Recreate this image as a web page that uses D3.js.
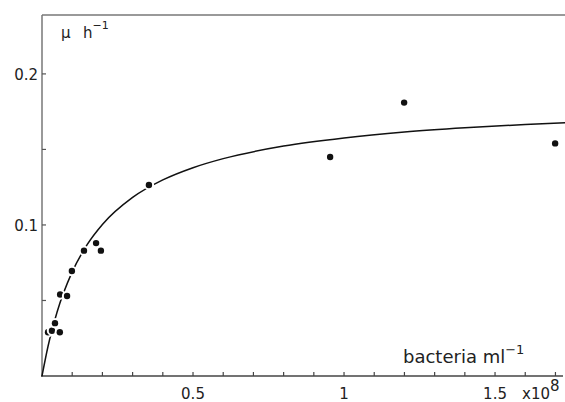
<!DOCTYPE html>
<html><head><meta charset="utf-8">
<script src="https://cdn.jsdelivr.net/npm/d3@7"></script>
<style>body{margin:0;background:#fff}svg{display:block}text{font-family:"DejaVu Sans",sans-serif;fill:#222}</style>
</head><body><svg id="c" width="565" height="402"></svg>
<script>
// observed points: bacteria (x10^8 ml^-1), growth rate mu (h^-1)
const bacteria = [0.020, 0.033, 0.059, 0.043, 0.060, 0.083, 0.099, 0.139, 0.179, 0.195, 0.354, 0.954, 1.199, 1.699];
const growth   = [0.029, 0.030, 0.029, 0.035, 0.054, 0.053, 0.0695, 0.083, 0.088, 0.083, 0.1265, 0.145, 0.181, 0.154];
// fitted curve
const curveX = [0, 0.02, 0.05, 0.1, 0.15, 0.2, 0.3, 0.4, 0.5, 0.6, 0.8, 1.0, 1.2, 1.4, 1.6, 1.74];
const curveY = [0, 0.0197, 0.0424, 0.0689, 0.0871, 0.1003, 0.1182, 0.1298, 0.1379, 0.1439, 0.1522, 0.1576, 0.1615, 0.1643, 0.1665, 0.1678];
const xTicks = [0.1,0.2,0.3,0.4,0.5,0.6,0.7,0.8,0.9,1.0,1.1,1.2,1.3,1.4,1.5,1.6,1.7];
const xLabels = [0.5, 1, 1.5];
const yTicks = [0.05, 0.1, 0.15, 0.2];
const yLabels = [0.1, 0.2];

const svg = d3.select("#c");
const x = d3.scaleLinear().domain([0, 1.725]).range([42, 563]);
const y = d3.scaleLinear().domain([0, 0.239]).range([376, 15]);

// frame
svg.append("line").attr("x1", 42).attr("x2", 565).attr("y1", 15).attr("y2", 15).attr("stroke", "#777").attr("stroke-width", 1.5);
svg.append("line").attr("x1", 42).attr("x2", 42).attr("y1", 15).attr("y2", 377).attr("stroke", "#777").attr("stroke-width", 1.5);
svg.append("line").attr("x1", 41).attr("x2", 563).attr("y1", 376).attr("y2", 376).attr("stroke", "#444").attr("stroke-width", 1.5);

// ticks
svg.selectAll(".xt").data(xTicks).join("line").attr("x1", d => x(d)).attr("x2", d => x(d))
  .attr("y1", 376).attr("y2", 372).attr("stroke", "#444").attr("stroke-width", 1.2);
svg.selectAll(".yt").data(yTicks).join("line").attr("y1", d => y(d)).attr("y2", d => y(d))
  .attr("x1", 42).attr("x2", 46).attr("stroke", "#555").attr("stroke-width", 1.2);

svg.selectAll(".xl").data(xLabels).join("text").attr("x", d => x(d)).attr("y", 399)
  .attr("text-anchor", "middle").attr("font-size", 15).text(d => d);
svg.selectAll(".yl").data(yLabels).join("text").attr("x", 38).attr("y", d => y(d) + 6)
  .attr("text-anchor", "end").attr("font-size", 15).text(d => d);

// x10^8
const m = svg.append("text").attr("x", 522).attr("y", 399).attr("font-size", 15);
m.append("tspan").text("x10");
m.append("tspan").attr("dy", -8).attr("font-size", 15).text("8");

// axis titles
const xt = svg.append("text").attr("x", 403).attr("y", 363).attr("font-size", 18);
xt.append("tspan").text("bacteria  ml");
xt.append("tspan").attr("dy", -9).attr("font-size", 13).text("\u22121");

const yt = svg.append("text").attr("y", 38).attr("font-size", 15);
yt.append("tspan").attr("x", 61).text("\u03bc");
yt.append("tspan").attr("x", 83).text("h");
yt.append("tspan").attr("dy", -9).attr("font-size", 11).text("\u22121");

// curve
const line = d3.line().x(d => x(d[0])).y(d => y(d[1])).curve(d3.curveMonotoneX);
svg.append("path").datum(curveX.map((v, i) => [v, curveY[i]])).attr("d", line)
  .attr("fill", "none").attr("stroke", "#111").attr("stroke-width", 1.5);

// points with white halo to break the curve
svg.selectAll(".pt").data(bacteria.map((v, i) => [v, growth[i]])).join("circle")
  .attr("cx", d => x(d[0])).attr("cy", d => y(d[1])).attr("r", 3.2)
  .attr("fill", "#111").attr("stroke", "#fff").attr("stroke-width", 4).attr("paint-order", "stroke");
</script></body></html>
